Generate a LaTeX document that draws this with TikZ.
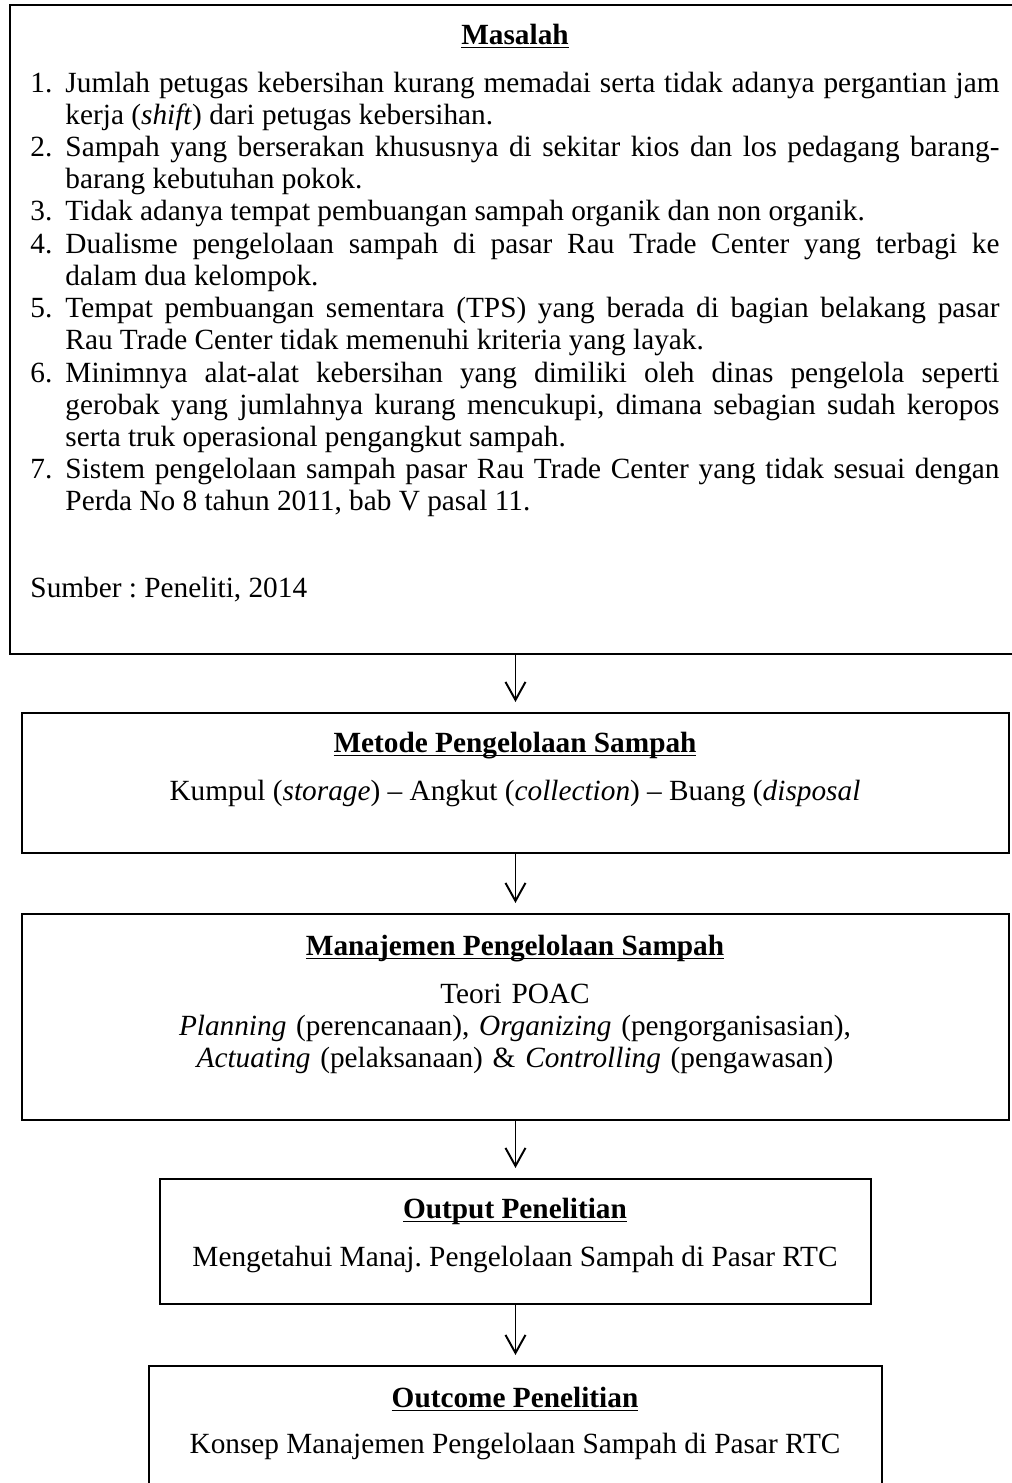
\documentclass[tikz,border=0pt]{standalone}
\usepackage{fontspec}
\setmainfont{Liberation Serif}
\usetikzlibrary{positioning,arrows.meta}

\newdimen\px \px=0.4096pt
\newcommand{\garisbawah}[1]{\underline{\smash{#1}}}
\newcommand{\butir}[2]{\noindent\hangindent=35\px\hangafter=1\makebox[35\px][l]{#1}#2\par}
\newcommand{\hurufisi}{\fontsize{12}{13.2}\selectfont\frenchspacing}

\tikzset{
  kotak/.style={draw, line width=0.8pt, inner sep=0pt, anchor=north west},
  judul/.style={anchor=base, inner sep=0pt, font=\hurufisi\bfseries},
  isi/.style={anchor=base, inner sep=0pt, font=\hurufisi},
  panah/.style={-{Straight Barb[length=7.4pt,width=8.2pt]}, line width=0.8pt, shorten >=4.1pt}
}

\begin{document}
\begin{tikzpicture}[x=\px, y=-\px]
    \useasboundingbox (0,0) rectangle (1012,1483);
    \clip (0,0) rectangle (1012,1483);

    % kotak-kotak
    \node[kotak, minimum width=1011*\px, minimum height=649*\px] (masalah) at (9,4) {};
    \node[kotak, minimum width=987*\px, minimum height=140*\px] (metode) at (21,712) {};
    \node[kotak, minimum width=987*\px, minimum height=206*\px] (manajemen) at (21,913) {};
    \node[kotak, minimum width=711*\px, minimum height=125*\px] (output) at (159,1178) {};
    \node[kotak, minimum width=733*\px, minimum height=140*\px] (outcome) at (148,1365) {};

    % masalah
    \node[judul] (tMasalah) at (515,44) {\garisbawah{Masalah}};
    \node[isi, anchor=base west, text width=969*\px, align=justify] (daftar) at (30,92) {%
      \hyphenpenalty=10000\exhyphenpenalty=10000\relax
      \butir{1.}{Jumlah petugas kebersihan kurang memadai serta tidak adanya pergantian jam\linebreak kerja (\textit{shift}) dari petugas kebersihan.}%
      \butir{2.}{Sampah yang berserakan khususnya di sekitar kios dan los pedagang barang-\linebreak barang kebutuhan pokok.}%
      \butir{3.}{Tidak adanya tempat pembuangan sampah organik dan non organik.}%
      \butir{4.}{Dualisme pengelolaan sampah di pasar Rau Trade Center yang terbagi ke\linebreak dalam dua kelompok.}%
      \butir{5.}{Tempat pembuangan sementara (TPS) yang berada di bagian belakang pasar\linebreak Rau Trade Center tidak memenuhi kriteria yang layak.}%
      \butir{6.}{Minimnya alat-alat kebersihan yang dimiliki oleh dinas pengelola seperti\linebreak gerobak yang jumlahnya kurang mencukupi, dimana sebagian sudah keropos\linebreak serta truk operasional pengangkut sampah.}%
      \butir{7.}{Sistem pengelolaan sampah pasar Rau Trade Center yang tidak sesuai dengan\linebreak Perda No 8 tahun 2011, bab V pasal 11.}};
    \node[isi, anchor=base west] (sumber) at (30,597) {Sumber : Peneliti, 2014};

    % metode
    \node[judul] (tMetode) at (515,752) {\garisbawah{Metode Pengelolaan Sampah}};
    \node[isi] (kumpul) at (515,800) {Kumpul (\textit{storage}) – Angkut (\textit{collection}) – Buang (\textit{disposal}};

    % manajemen
    \node[judul] (tManajemen) at (515,955) {\garisbawah{Manajemen Pengelolaan Sampah}};
    \node[isi, text width=987*\px, align=center] (poac) at (515,1003) {Teori POAC\\
      \textit{Planning} (perencanaan), \textit{Organizing} (pengorganisasian),\\
      \textit{Actuating} (pelaksanaan) \& \textit{Controlling} (pengawasan)};

    % output dan outcome
    \node[judul] (tOutput) at (515,1218) {\garisbawah{Output Penelitian}};
    \node[isi] (mengetahui) at (515,1266) {Mengetahui Manaj. Pengelolaan Sampah di Pasar RTC};
    \node[judul] (tOutcome) at (515,1407) {\garisbawah{Outcome Penelitian}};
    \node[isi] (konsep) at (515,1453) {Konsep Manajemen Pengelolaan Sampah di Pasar RTC};

    % panah
    \draw[panah] (masalah.south) -- (metode.north);
    \draw[panah] (metode.south) -- (manajemen.north);
    \draw[panah] (manajemen.south) -- (output.north);
    \draw[panah] (output.south) -- (outcome.north);
\end{tikzpicture}
\end{document}
